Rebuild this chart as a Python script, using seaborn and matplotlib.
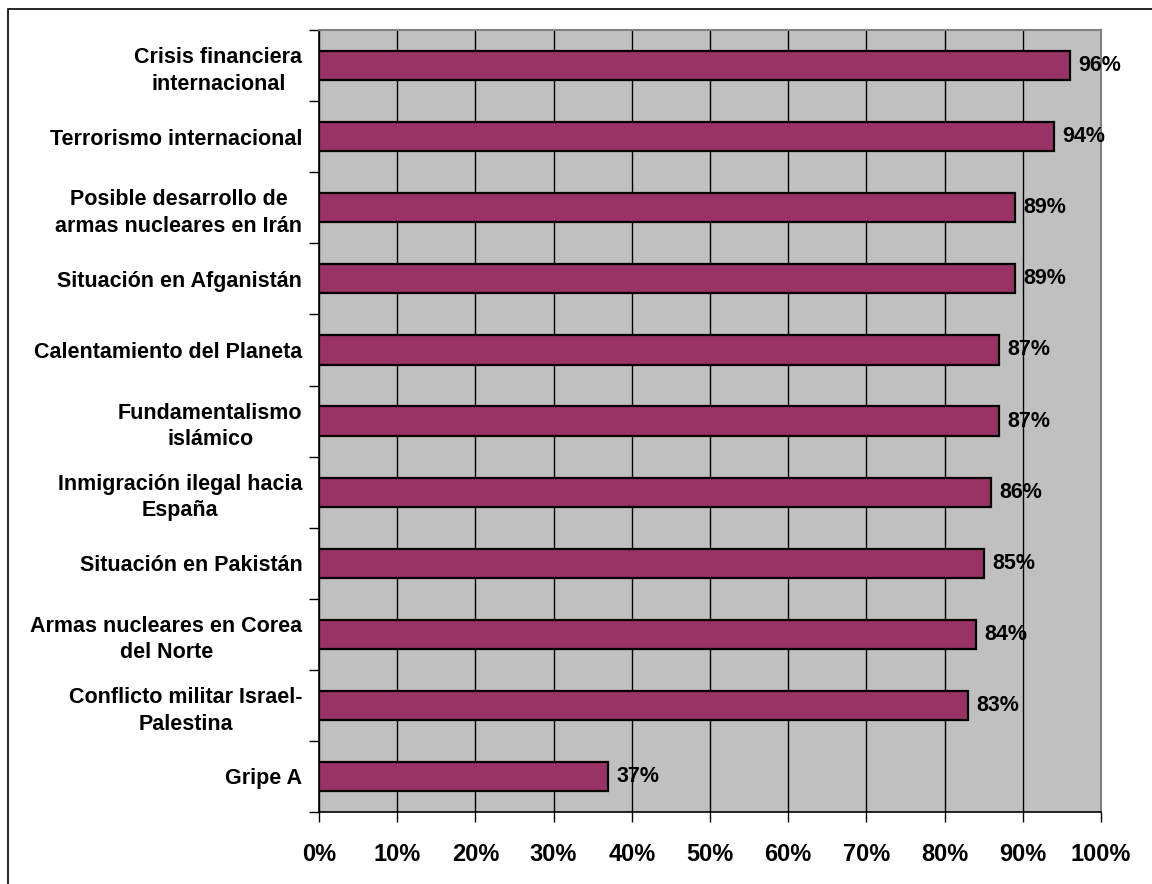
import numpy as np
import pandas as pd
import matplotlib
matplotlib.use('Agg')
import matplotlib.pyplot as plt
import matplotlib.ticker as mticker
from matplotlib.patches import Rectangle
import seaborn as sns

categories = [
    'Crisis financiera\ninternacional',
    'Terrorismo internacional',
    'Posible desarrollo de\narmas nucleares en Irán',
    'Situación en Afganistán',
    'Calentamiento del Planeta',
    'Fundamentalismo\nislámico',
    'Inmigración ilegal hacia\nEspaña',
    'Situación en Pakistán',
    'Armas nucleares en Corea\ndel Norte',
    'Conflicto militar Israel-\nPalestina',
    'Gripe A',
]
values = [96, 94, 89, 89, 87, 87, 86, 85, 84, 83, 37]
x_ticks = [0, 10, 20, 30, 40, 50, 60, 70, 80, 90, 100]

sns.set_style('white')
plt.rcParams['font.family'] = ['Liberation Sans', 'DejaVu Sans']
plt.rcParams['font.weight'] = 'bold'
plt.rcParams['text.color'] = 'black'
plt.rcParams['xtick.color'] = 'black'
plt.rcParams['ytick.color'] = 'black'

df = pd.DataFrame({'tema': categories, 'pct': values})

fig = plt.figure(figsize=(11.52, 8.84), dpi=100)
ax = fig.add_axes([0.2769, 0.0814, 0.9557 - 0.2769, 0.966 - 0.0814])
ax.set_facecolor('#C0C0C0')

sns.barplot(data=df, x='pct', y='tema', orient='h', color='#993366',
            edgecolor='black', linewidth=1.6, width=0.41, saturation=1, ax=ax)

ax.set_xlim(0, 100)
ax.set_ylim(len(categories) - 0.5, -0.5)
ax.set_xticks(x_ticks)
ax.set_xticklabels([f'{t}%' for t in x_ticks], fontsize=17, fontweight='bold')
ax.xaxis.grid(True, color='black', linewidth=1)
ax.set_axisbelow(True)
ax.tick_params(axis='x', bottom=True, length=7, width=1, color='black',
               labelcolor='black', pad=15, direction='out')

ax.set_yticks(range(len(categories)))
ax.set_yticklabels(categories, fontsize=15.5, fontweight='bold',
                   multialignment='center', linespacing=1.35)
ax.tick_params(axis='y', which='major', left=False, length=0, pad=12, labelcolor='black')
ax.yaxis.set_minor_locator(mticker.FixedLocator(np.arange(-0.5, len(categories), 1)))
ax.tick_params(axis='y', which='minor', left=True, length=7, width=1,
               color='black', direction='out')
ax.set_xlabel('')
ax.set_ylabel('')

for s in ['left', 'bottom']:
    ax.spines[s].set_color('black')
    ax.spines[s].set_linewidth(1.2)
for s in ['top', 'right']:
    ax.spines[s].set_color('#808080')
    ax.spines[s].set_linewidth(1.5)

for i, v in enumerate(values):
    ax.annotate(f'{v}%', xy=(v, i), xytext=(6, 0), textcoords='offset points',
                va='center', ha='left', fontsize=15.5, fontweight='bold', color='black')

# outer chart border (right and bottom edges fall outside the image)
fig.patches.append(Rectangle((8 / 1152, -0.05), 1.1, 1 - 9 / 884 + 0.05,
                             transform=fig.transFigure, fill=False,
                             edgecolor='black', linewidth=1.2))

fig.savefig('out.png', dpi=100)
